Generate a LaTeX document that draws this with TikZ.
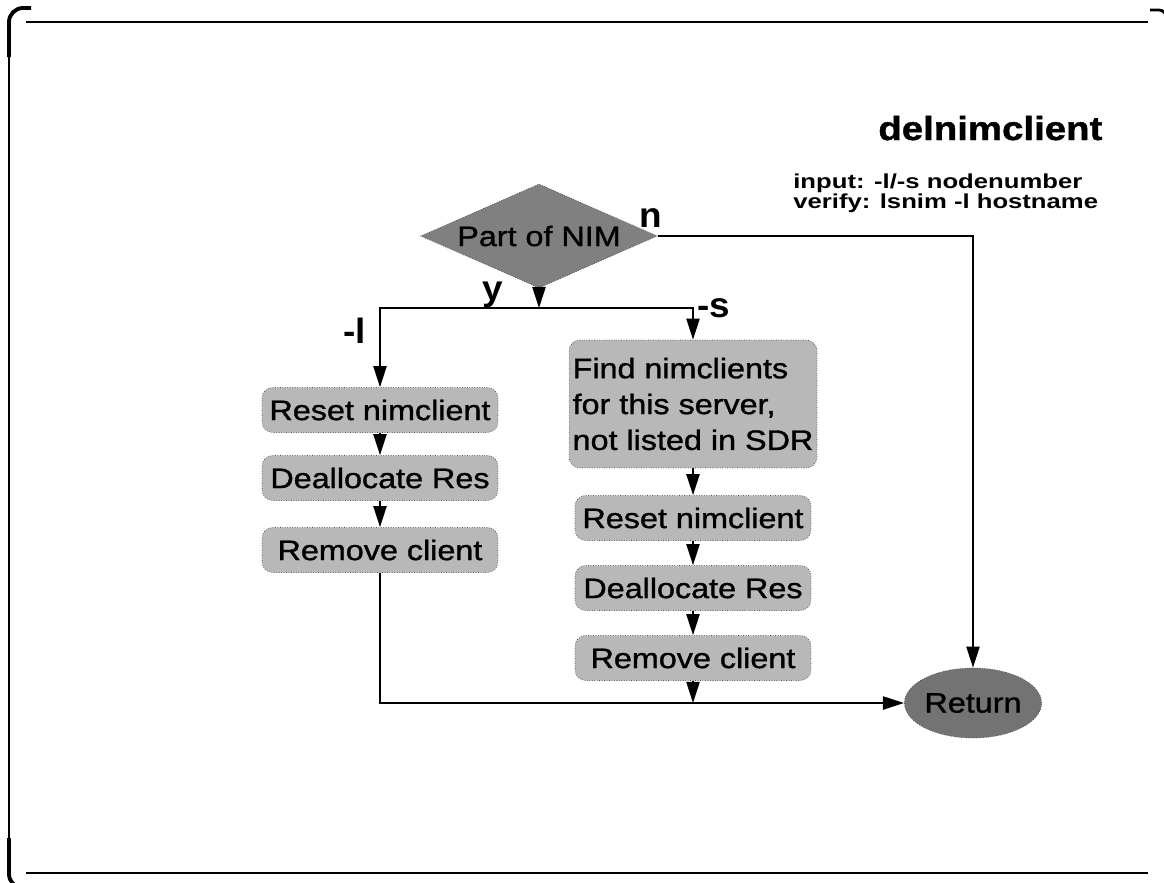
\documentclass[tikz,border=0pt]{standalone}
\usepackage{fontspec}
\setmainfont{Liberation Sans}[FakeStretch=1.15, FakeBold=1.2]
\newfontfamily\branchfont{Liberation Sans}[FakeStretch=1.05]
\newfontfamily\infofont{Liberation Sans}[FakeStretch=1.27]
\usetikzlibrary{shapes.geometric}
\usetikzlibrary{arrows.meta}

\tikzset{
  stepbox/.style={draw=black!70, densely dotted, fill=black!28, rounded corners=6pt,
    minimum width=4.72cm, minimum height=0.9cm, inner sep=2pt,
    font=\fontsize{16}{20.4}\selectfont},
  decision/.style={diamond, draw=black!70, densely dotted, fill=black!50, aspect=2.3,
    minimum width=4.74cm, minimum height=2.08cm, inner sep=0pt,
    font=\fontsize{16}{18}\selectfont},
  endnode/.style={ellipse, draw=black!70, densely dotted, fill=black!55,
    minimum width=2.6cm, minimum height=1.4cm, inner sep=0pt,
    font=\fontsize{16}{18}\selectfont},
  flow/.style={-{Triangle[length=12pt,width=7.5pt]}, line width=1pt},
  branch/.style={inner sep=0pt, anchor=base west,
    font=\branchfont\bfseries\fontsize{20}{22}\selectfont},
  frame/.style={line width=1.1pt},
}

\begin{document}
\begin{tikzpicture}[x=0.02cm, y=-0.02cm]
  \useasboundingbox (0,0) rectangle (1164,883);

  % page frame
  \draw[frame] (26,22) -- (1148,22);
  \draw[frame] (26,873) -- (1148,873);
  \draw[frame] (9,57) -- (9,838);
  \draw[line width=2.2pt, rounded corners=8pt] (9,57) -- (9,8) -- (31,8);
  \draw[line width=2.2pt, rounded corners=8pt] (9,838) -- (9,888) -- (30,888);
  \draw[line width=1.6pt, rounded corners=4pt] (1150,10) -- (1166,10) -- (1166,24);

  % heading
  \node[inner sep=0pt, anchor=base west, font=\bfseries\fontsize{19}{22}\selectfont] (title) at (878,140) {delnimclient};
  \node[inner sep=0pt, anchor=north west, align=left,
    font=\infofont\bfseries\fontsize{11.5}{11}\selectfont] (info) at (793,174)
    {input: -l/-s nodenumber\\verify: lsnim -l hostname};

  % decision and end
  \node[decision] (nim) at (539,236) {Part of NIM};
  \node[endnode] (ret) at (973,703) {Return};

  % -l branch
  \node[stepbox] (lreset) at (380,410) {Reset nimclient};
  \node[stepbox] (ldealloc) at (380,478) {Deallocate Res};
  \node[stepbox] (lremove) at (380,550) {Remove client};

  % -s branch
  \node[stepbox, align=left, minimum height=2.56cm] (find) at (693,404)
    {Find nimclients\\for this server,\\not listed in SDR};
  \node[stepbox] (rreset) at (693,518) {Reset nimclient};
  \node[stepbox] (rdealloc) at (693,588) {Deallocate Res};
  \node[stepbox] (rremove) at (693,658) {Remove client};

  % branch letters
  \node[branch] (nlabel) at (639,227) {n};
  \node[branch] (ylabel) at (482,300) {y};
  \node[branch] (slabel) at (697,317) {-s};
  \node[branch] (llabel) at (343,343) {-l};

  \coordinate (fork) at (539,308);

  % connectors
  \draw[flow] (nim.south) -- (fork);
  \draw[flow] (fork) -| (lreset.north);
  \draw[flow] (fork) -| (find.north);
  \draw[flow] (nim.east) -| (ret.north);

  \draw[flow] (lreset) -- (ldealloc);
  \draw[flow] (ldealloc) -- (lremove);
  \draw[flow] (lremove.south) |- (ret.west);

  \draw[flow] (find) -- (rreset);
  \draw[flow] (rreset) -- (rdealloc);
  \draw[flow] (rdealloc) -- (rremove);
  \draw[flow] (rremove.south) -- (rremove.south |- ret.west);
\end{tikzpicture}
\end{document}
